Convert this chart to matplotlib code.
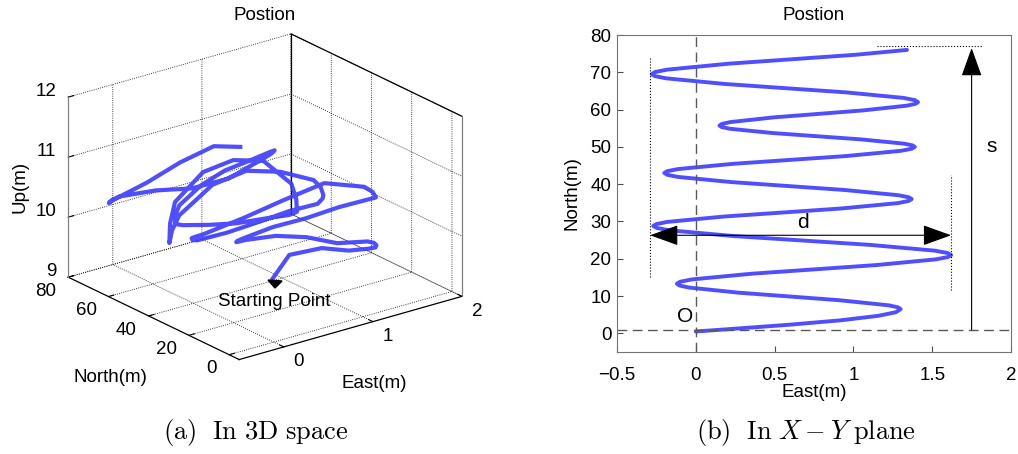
import numpy as np
import matplotlib
matplotlib.use('Agg')
import matplotlib.pyplot as plt
from matplotlib.patches import Polygon

plt.rcParams['font.family'] = ['Liberation Sans', 'DejaVu Sans']
plt.rcParams['font.size'] = 13.5
plt.rcParams['mathtext.fontset'] = 'cm'

# trajectory (East, North, Up in m)
east = [0.0, 0.2, 0.59, 0.92, 1.158, 1.269, 1.30,
        1.283, 1.223, 0.912, 0.59, 0.268, -0.043, -0.103, -0.12,
        -0.099, -0.025, 0.355, 0.75, 1.145, 1.525, 1.599, 1.62,
        1.597, 1.517, 1.104, 0.675, 0.246, -0.167, -0.247, -0.27,
        -0.25, -0.181, 0.178, 0.55, 0.922, 1.281, 1.35, 1.37,
        1.351, 1.284, 0.941, 0.585, 0.229, -0.114, -0.181, -0.20,
        -0.181, -0.113, 0.234, 0.595, 0.956, 1.303, 1.371, 1.39,
        1.375, 1.322, 1.051, 0.77, 0.489, 0.218, 0.165, 0.15,
        0.165, 0.219, 0.494, 0.78, 1.066, 1.341, 1.395, 1.41,
        1.39, 1.318, 0.949, 0.565, 0.181, -0.188, -0.26, -0.28,
        -0.259, -0.183, 0.206, 0.61, 1.014, 1.34]
north = [0.5, 1.1, 2.3, 3.5, 4.7, 5.66, 6.5,
         6.98, 7.52, 8.88, 9.9, 10.92, 12.28, 12.82, 13.3,
         13.84, 14.46, 15.99, 17.15, 18.31, 19.85, 20.46, 21.0,
         21.55, 22.17, 23.73, 24.9, 26.07, 27.63, 28.25, 28.8,
         29.3, 29.88, 31.32, 32.4, 33.48, 34.92, 35.5, 36.0,
         36.49, 37.05, 38.45, 39.5, 40.55, 41.95, 42.51, 43.0,
         43.49, 44.05, 45.45, 46.5, 47.55, 48.95, 49.51, 50.0,
         50.4, 50.86, 52.0, 52.85, 53.71, 54.85, 55.3, 55.7,
         56.14, 56.65, 57.91, 58.85, 59.8, 61.06, 61.56, 62.0,
         62.53, 63.13, 64.63, 65.75, 66.88, 68.38, 68.98, 69.5,
         70.06, 70.7, 72.3, 73.5, 74.7, 76.0]
up = [10.05, 10.35, 10.28, 10.08, 9.99, 9.95, 9.96,
      10.0, 10.04, 10.12, 10.34, 10.48, 10.52, 10.51, 10.50,
      10.50, 10.50, 10.51, 10.47, 10.47, 10.42, 10.40, 10.39,
      10.48, 10.59, 10.80, 10.68, 10.54, 10.42, 10.40, 10.38,
      10.33, 10.29, 10.24, 10.24, 10.25, 10.20, 10.25, 10.29,
      10.42, 10.56, 10.82, 10.97, 10.87, 10.48, 10.25, 10.04,
      10.35, 10.67, 11.00, 11.03, 10.85, 10.30, 10.0, 9.78,
      9.76, 9.74, 9.77, 9.80, 9.88, 9.97, 10.0, 10.02,
      10.14, 10.27, 10.47, 10.58, 10.60, 10.62, 10.61, 10.60,
      10.55, 10.49, 10.28, 10.26, 10.37, 10.40, 10.36, 10.31,
      10.31, 10.32, 10.40, 10.55, 10.63, 10.46]

east_ticks = [0, 1, 2]
north_ticks = [0, 20, 40, 60, 80]
up_ticks = [9, 10, 11, 12]
xy_east_ticks = [-0.5, 0, 0.5, 1, 1.5, 2]
xy_east_labels = ['\u22120.5', '0', '0.5', '1', '1.5', '2']
xy_north_ticks = [0, 10, 20, 30, 40, 50, 60, 70, 80]

# annotation geometry (2D plot)
origin_n = 1.0
d_north, d_left, d_right = 26.3, -0.29, 1.62
s_east, s_top = 1.75, 77.0

line_col = '#3c3cff'
W, H = 1018, 454

fig = plt.figure(figsize=(W / 100, H / 100), dpi=100)

##########
### 3D ###
##########
x0, x1, y0, y1, z0, z1 = -0.5, 2, -5, 80, 9, 12

ax3 = fig.add_axes([-0.035, 0.1045, 0.58, 0.90], projection='3d')
ax3.set_proj_type('ortho')
ax3.view_init(elev=21.7, azim=-127.5)
ax3.set_box_aspect((1, 1, 0.69), zoom=1.05)
ax3.set_xlim(x0, x1)
ax3.set_ylim(y0, y1)
ax3.set_zlim(z0, z1)
ax3.set_xticks(east_ticks)
ax3.set_yticks(north_ticks)
ax3.set_zticks(up_ticks)
ax3.set_xticklabels([])
ax3.set_yticklabels([])
ax3.set_zticklabels([])
for a in (ax3.xaxis, ax3.yaxis, ax3.zaxis):
    a.set_pane_color((1, 1, 1, 0))
    a.pane.set_edgecolor((1, 1, 1, 0))
    a.line.set_color((1, 1, 1, 0))
    a.label.set_visible(False)
    a._axinfo['grid'].update(color='k', linewidth=0.6, linestyle=':')
    a._axinfo['tick'].update(inward_factor=0.0, outward_factor=0.3)

# tick labels, placed just outside the box edges
for v in north_ticks:
    ax3.text(x0 - 0.134, v, z0 - 0.18, str(v), ha='right', va='center')
for v in east_ticks:
    ax3.text(v, y0 - 7.5, z0 - 0.13, str(v), ha='center', va='center')
for v in up_ticks:
    ax3.text(x0, y1 + 6, v, str(v), ha='right', va='center')

# box edges
edges = [((x0, x1), (y0, y0), (z0, z0), 'k'),
         ((x0, x0), (y0, y1), (z0, z0), 'k'),
         ((x0, x0), (y1, y1), (z1, z1), 'k'),
         ((x1, x1), (y0, y1), (z1, z1), 'k'),
         ((x1, x1), (y1, y1), (z0, z1), 'k'),
         ((x0, x0), (y1, y1), (z0, z1), '0.5'),
         ((x1, x1), (y0, y0), (z0, z1), '0.5')]
for ex, ey, ez, c in edges:
    ax3.plot(ex, ey, ez, color=c, lw=0.9)

ax3.plot(east, north, up, color=line_col, lw=3.0, alpha=0.9)

fig.text(265 / W, 1 - 15 / H, 'Postion', ha='center', va='center')
fig.text(20 / W, 1 - 187 / H, 'Up(m)', ha='center', va='center', rotation=90)
fig.text(110 / W, 1 - 377 / H, 'North(m)', ha='center', va='center')
fig.text(374 / W, 1 - 383 / H, 'East(m)', ha='center', va='center')
fig.text(274 / W, 1 - 302 / H, 'Starting Point', ha='center', va='center')
tri = [[268, 280], [282, 281], [275, 288]]
fig.add_artist(Polygon([[px / W, 1 - py / H] for px, py in tri],
                       closed=True, color='k', transform=fig.transFigure))

##########
### 2D ###
##########
ax = fig.add_axes([617 / W, 1 - 352 / H, 394 / W, 317 / H])
ax.plot(east, north, color=line_col, lw=2.8, alpha=0.9,
        solid_capstyle='round', solid_joinstyle='round')
ax.set_xlim(-0.5, 2)
ax.set_ylim(-5, 80)
ax.set_xticks(xy_east_ticks)
ax.set_xticklabels(xy_east_labels)
ax.set_yticks(xy_north_ticks)
ax.tick_params(direction='in', length=4, color='0.3', pad=4)
ax.tick_params(axis='x', pad=11)
for sp in ax.spines.values():
    sp.set_color('0.45')
ax.set_title('Postion', fontsize=13.5, pad=11)
ax.set_xlabel('East(m)', labelpad=0)
ax.set_ylabel('North(m)', labelpad=7)

ax.axvline(0, color='0.35', lw=1, ls=(0, (7, 4)))
ax.axhline(origin_n, color='0.35', lw=1, ls=(0, (7, 4)))
ax.plot([d_left, d_left], [15, 74], color='k', lw=0.8, ls=':')
ax.plot([d_right, d_right], [11.5, 42.5], color='k', lw=0.8, ls=':')
ax.plot([1.15, 1.82], [s_top, s_top], color='k', lw=0.8, ls=':')
head = '<|-|>,head_length=0.75,head_width=0.27'
ax.annotate('', xy=(d_left, d_north), xytext=(d_right, d_north),
            arrowprops=dict(arrowstyle=head, color='k', lw=0.8,
                            mutation_scale=24, shrinkA=0, shrinkB=0))
ax.annotate('', xy=(s_east, s_top - 0.5), xytext=(s_east, origin_n),
            arrowprops=dict(arrowstyle='-|>,head_length=0.75,head_width=0.27',
                            color='k', lw=0.8,
                            mutation_scale=24, shrinkA=0, shrinkB=0))
ax.text(0.68, 29.8, 'd', ha='center', va='center', fontsize=15)
ax.text(1.88, 50, 's', ha='center', va='center', fontsize=15)
ax.text(-0.07, 4.5, 'O', ha='center', va='center', fontsize=15)

# captions
fig.text(256 / W, 1 - 433 / H, r'$\mathrm{(a)\ \ In\ 3D\ space}$',
         ha='center', va='center', fontsize=19)
fig.text(806 / W, 1 - 433 / H, r'$\mathrm{(b)\ \ In\ }X-Y\mathrm{\ plane}$',
         ha='center', va='center', fontsize=19)

fig.savefig('out.png', dpi=100)
